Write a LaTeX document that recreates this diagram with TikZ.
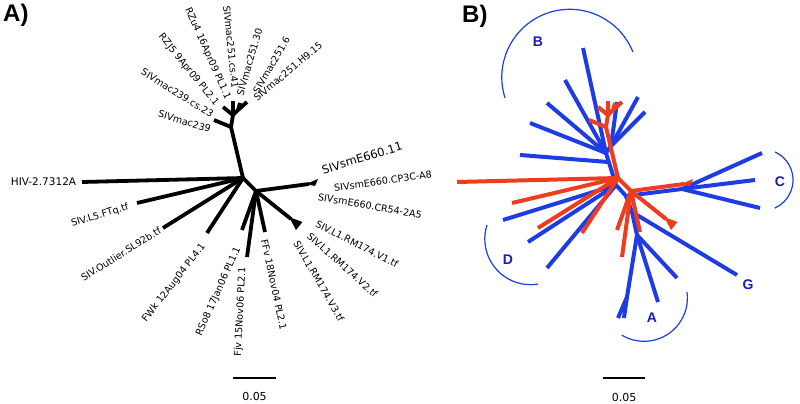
\documentclass[tikz,border=0pt]{standalone}
\usepackage{fontspec}
\setmainfont{DejaVu Sans}
\newfontfamily\hsans{Liberation Sans}
\definecolor{tred}{RGB}{240,60,30}
\definecolor{tblue}{RGB}{30,60,230}
\definecolor{lblue}{RGB}{25,25,190}
\newcommand{\mytree}[2]{%
  \coordinate (#1R) at (243,178);
  \coordinate (#1hiv) at (82,182);
  \coordinate (#1ftq) at (137,203);
  \coordinate (#1outl) at (163,228);
  \coordinate (#1fwk) at (207,233);
  \coordinate (#1N1) at (256,191);
  \coordinate (#1rso) at (242,230);
  \coordinate (#1fjv) at (247,257);
  \coordinate (#1ffv) at (265,232);
  \coordinate (#1sm) at (309,184);
  \coordinate (#1l1) at (291,219);
  \coordinate (#1N2) at (231,127);
  \coordinate (#1mac) at (214,120);
  \coordinate (#1N3) at (233,115);
  \coordinate (#1t1) at (223,107);
  \coordinate (#1t2) at (233,101);
  \coordinate (#1N4) at (238,110);
  \coordinate (#1t3) at (240,103);
  \coordinate (#1t4) at (247,102);
  \draw[#2] (#1hiv) -- (#1R) -- (#1N2) -- (#1N3) -- (#1t2);
  \draw[#2] (#1ftq) -- (#1R) -- (#1N1) -- (#1sm);
  \draw[#2] (#1outl) -- (#1R);
  \draw[#2] (#1fwk) -- (#1R);
  \draw[#2] (#1N1) -- (#1rso);
  \draw[#2] (#1N1) -- (#1fjv);
  \draw[#2] (#1N1) -- (#1ffv);
  \draw[#2] (#1N1) -- (#1l1);
  \draw[#2] (#1N2) -- (#1mac);
  \draw[#2] (#1N3) -- (#1t1);
  \draw[#2] (#1N3) -- (#1N4) -- (#1t3);
  \draw[#2] (#1N4) -- (#1t4);
  \fill[#2] (306,184) -- (318,179) -- (315,186) -- cycle;
  \fill[#2] (289,217) -- (302.5,222) -- (296,230) -- cycle;
}
\begin{document}
\begin{tikzpicture}[x=1pt,y=-1pt,
  lbl/.style={font=\fontsize{9.6}{11}\selectfont, inner sep=0pt},
  blk/.style={line width=3.8pt, line join=round, black},
  redt/.style={line width=4pt, line join=round, tred},
  bluet/.style={line width=4pt, line join=round, tblue},
  arcsty/.style={line width=1.2pt, tblue},
  grp/.style={font=\hsans\bfseries\fontsize{14}{16}\selectfont, text=lblue, inner sep=0pt},
  panel/.style={font=\hsans\bfseries\fontsize{24}{26}\selectfont, inner sep=0pt},
  sbar/.style={line width=2pt, black},
  stext/.style={font=\fontsize{11}{13}\selectfont, inner sep=0pt}]
\useasboundingbox (0,0) rectangle (800,404);

% panel labels
\node[panel, anchor=base west] (pA) at (3,22) {A)};
\node[panel, anchor=base west] (pB) at (462,23) {B)};

% ---------- left tree ----------
\mytree{L}{blk}

\node[lbl, font=\fontsize{10.5}{12}\selectfont] (lhiv) at (43.5,182) {HIV-2.7312A};
\node[lbl, rotate=17] (lftq) at (100,215.5) {SIV.L5.FTq.tf};
\node[lbl, rotate=32] (lout) at (121,254) {SIV.Outlier.SL92b.tf};
\node[lbl, rotate=52] (lfwk) at (174,283) {FWk 12Aug04 PL4.1};
\node[lbl, rotate=66] (lrso) at (218.5,291.5) {RSo8 17Jan06 PL1.1};
\node[lbl, rotate=87] (lfjv) at (240.5,311.5) {Fjv 15Nov06 PL2.1};
\node[lbl, rotate=-78] (lffv) at (274,285) {FFv 18Nov04 PL2.1};
\node[lbl, rotate=-27] (lv1) at (357,244) {SIV.L1.RM174.V1.tf};
\node[lbl, rotate=-42] (lv2) at (342.5,265) {SIV.L1.RM174.V2.tf};
\node[lbl, rotate=-60] (lv3) at (319,281) {SIV.L1.RM174.V3.tf};
\node[lbl, rotate=17, font=\fontsize{11.5}{13}\selectfont] (lsm11) at (362,158) {SIVsmE660.11};
\node[lbl, rotate=8] (lsmcp) at (383,181) {SIVsmE660.CP3C-A8};
\node[lbl, rotate=-10] (lsmcr) at (370,206) {SIVsmE660.CR54-2A5};
\node[lbl, rotate=-17] (lmac) at (184.5,121.5) {SIVmac239};
\node[lbl, rotate=-32] (lmaccs) at (177.5,93) {SIVmac239.cs.23};
\node[lbl, rotate=-51] (lrzj) at (188.5,70) {RZJ5 9Apr09 PL2.1};
\node[lbl, rotate=-66] (lrzu) at (207.5,53.5) {RZu4 16Apr09 PL1.1};
\node[lbl, rotate=-84] (l41) at (231,47) {SIVmac251.cs.41};
\node[lbl, rotate=74] (l30) at (249.5,62) {SIVmac251.30};
\node[lbl, rotate=60] (l6) at (271.5,65) {SIVmac251.6};
\node[lbl, rotate=40] (lh9) at (288,71.5) {SIVmac251.H9.15};

% scale bar left
\coordinate (sl1) at (233,378);
\coordinate (sl2) at (276,378);
\draw[sbar] (sl1) -- (sl2);
\node[stext] (slt) at (254.5,396) {0.05};

% ---------- right tree ----------
% blue
\coordinate (Bc) at (616,185);
\coordinate (Bb) at (608,162);
\coordinate (Bu) at (606,153);
\coordinate (Bu2) at (611,146);
\coordinate (b1) at (583,48);
\coordinate (b2) at (565,80);
\coordinate (b3) at (547,103);
\coordinate (b4) at (530,123);
\coordinate (b5) at (520,155);
\coordinate (b6) at (617,102);
\coordinate (b7) at (638,97);
\coordinate (b8) at (645,112);
\coordinate (d1) at (503,220);
\coordinate (d2) at (528,242);
\coordinate (d3) at (547,268);
\coordinate (Bd) at (626,196);
\coordinate (Cn) at (682,189);
\coordinate (c1) at (762,153);
\coordinate (c2) at (755,180);
\coordinate (c3) at (760,208);
\coordinate (Ag) at (632,212);
\coordinate (gt) at (737,275);
\coordinate (An) at (637,235);
\coordinate (a1) at (658,302);
\coordinate (a2) at (677,278);
\coordinate (Ap) at (627,297);
\coordinate (a3) at (618,318);
\coordinate (a4) at (624,318);

\draw[bluet] (b1) -- (Bu) -- (Bc) -- (Bd) -- (Cn) -- (c2);
\draw[bluet] (b2) -- (Bu);
\draw[bluet] (b3) -- (Bu);
\draw[bluet] (b4) -- (Bu);
\draw[bluet] (b5) -- (Bb);
\draw[bluet] (Bu) -- (Bu2) -- (b7);
\draw[bluet] (Bu2) -- (b8);
\draw[bluet] (Bu2) -- (b6);
\draw[bluet] (d1) -- (Bc);
\draw[bluet] (d2) -- (Bc);
\draw[bluet] (d3) -- (Bc);
\draw[bluet] (Cn) -- (c1);
\draw[bluet] (Cn) -- (c3);
\draw[bluet] (Bd) -- (Ag) -- (gt);
\draw[bluet] (Ag) -- (An) -- (a1);
\draw[bluet] (An) -- (a2);
\draw[bluet] (An) -- (Ap) -- (a3);
\draw[bluet] (Ap) -- (a4);

% red (same tree as panel A)
\begin{scope}[shift={(375,0)}]
\mytree{Q}{redt}
\end{scope}

% clade arcs
\coordinate (ctrB) at (569.8,77.3);
\coordinate (ctrC) at (762.2,180);
\coordinate (ctrD) at (530.6,238.9);
\coordinate (ctrA) at (644.1,298);
\draw[arcsty] ([shift={(197.7:68pt)}]ctrB) arc[start angle=197.7, end angle=21.8, radius=68pt];
\draw[arcsty] ([shift={(65.4:30.8pt)}]ctrC) arc[start angle=65.4, end angle=-66, radius=30.8pt];
\draw[arcsty] ([shift={(162.3:45.8pt)}]ctrD) arc[start angle=162.3, end angle=279.3, radius=45.8pt];
\draw[arcsty] ([shift={(8:43.3pt)}]ctrA) arc[start angle=8, end angle=-121, radius=43.3pt];

\node[grp] (gB) at (538,42) {B};
\node[grp] (gC) at (780,182) {C};
\node[grp] (gD) at (508,260) {D};
\node[grp] (gA) at (652,318) {A};
\node[grp] (gG) at (748,285) {G};

% scale bar right
\coordinate (sr1) at (603,378);
\coordinate (sr2) at (645,378);
\draw[sbar] (sr1) -- (sr2);
\node[stext] (srt) at (624,397) {0.05};
\end{tikzpicture}
\end{document}
